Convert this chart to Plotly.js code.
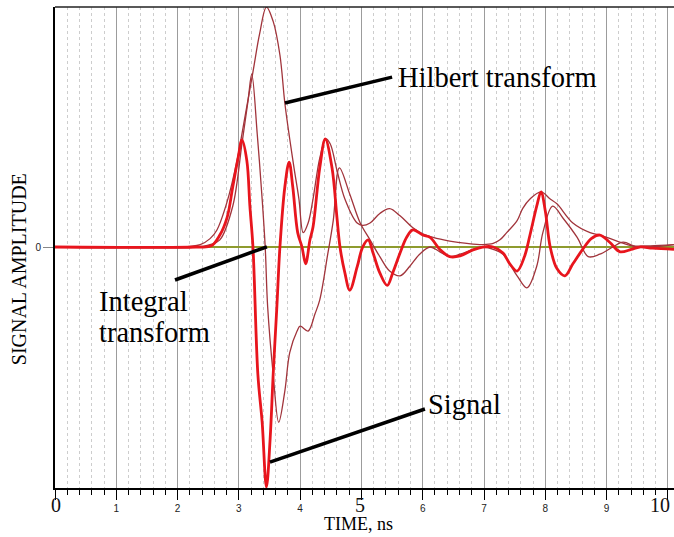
<!DOCTYPE html>
<html>
<head>
<meta charset="utf-8">
<script src="https://cdn.plot.ly/plotly-3.0.1.min.js"></script>
<style>html,body{margin:0;padding:0;background:#fff;}#chart{width:674px;height:537px;}</style>
</head>
<body>
<div id="chart"></div>
<script>
// ---- data (time in ns, amplitude in arbitrary units) ----
var timeSignal = [0, 2.3, 2.55, 2.69, 2.81, 2.90, 2.99, 3.05, 3.13, 3.18, 3.23, 3.31, 3.38, 3.45, 3.51, 3.56, 3.62, 3.67, 3.75, 3.82,
                  3.88, 3.96, 4.03, 4.09, 4.16, 4.21, 4.32, 4.41, 4.52, 4.60, 4.65, 4.73, 4.81, 4.93, 5.02, 5.11, 5.19, 5.30, 5.42, 5.51,
                  5.63, 5.74, 5.84, 6.00, 6.12, 6.28, 6.44, 6.61, 6.82, 6.98, 7.15, 7.31, 7.42, 7.54, 7.66, 7.75, 7.86, 7.93, 8.00, 8.08,
                  8.19, 8.32, 8.45, 8.61, 8.75, 8.89, 9.05, 9.22, 9.40, 9.54, 9.75, 10.1];
var ampSignal  = [0, 0, 0.005, 0.05, 0.125, 0.25, 0.375, 0.446, 0.36, 0.17, 0, -0.53, -0.73, -1.0, -0.80, -0.53, -0.25, 0, 0.25, 0.354,
                  0.25, 0.06, 0, -0.07, 0.03, 0.083, 0.33, 0.45, 0.33, 0.125, 0, -0.108, -0.18, -0.083, 0, 0.03, -0.025, -0.108, -0.16, -0.108,
                  -0.025, 0.042, 0.071, 0.05, 0.04, -0.01, -0.04, -0.037, -0.012, 0, 0, -0.025, -0.07, -0.10, -0.04, 0.05, 0.17, 0.23, 0.15, 0,
                  -0.09, -0.12, -0.07, -0.01, 0.035, 0.05, 0.02, -0.02, -0.01, 0, -0.005, -0.01];

var timeHilbert = [0, 1.9, 2.2, 2.37, 2.53, 2.64, 2.81, 2.97, 3.07, 3.23, 3.34, 3.45, 3.56, 3.67, 3.75, 3.83, 3.90, 3.98, 4.05, 4.13,
                   4.21, 4.32, 4.42, 4.49, 4.60, 4.73, 4.93, 5.02, 5.14, 5.30, 5.46, 5.63, 5.84, 6.00, 6.17, 6.44, 6.72, 6.98, 7.15, 7.26,
                   7.37, 7.54, 7.63, 7.75, 7.93, 8.08, 8.19, 8.45, 8.73, 8.89, 9.17, 9.43, 9.71, 10.1];
var ampHilbert  = [0, 0, 0.003, 0.01, 0.035, 0.07, 0.19, 0.36, 0.5, 0.73, 0.89, 1.0, 0.94, 0.8, 0.6, 0.45, 0.33, 0.2, 0.06, 0.1,
                   0.2, 0.37, 0.45, 0.43, 0.32, 0.2, 0.1, 0.09, 0.1, 0.14, 0.16, 0.13, 0.08, 0.055, 0.04, 0.025, 0.015, 0.01, 0.015, 0.03,
                   0.06, 0.11, 0.16, 0.2, 0.23, 0.2, 0.18, 0.1, 0.06, 0.05, 0.025, 0.005, 0.005, 0.01];

var timeIntegral = [0, 2.3, 2.53, 2.69, 2.90, 3.05, 3.15, 3.21, 3.30, 3.38, 3.43, 3.47, 3.56, 3.65, 3.75, 3.83, 3.95, 4.00, 4.13, 4.24,
                    4.32, 4.45, 4.54, 4.64, 4.81, 4.98, 5.14, 5.30, 5.46, 5.63, 5.79, 5.95, 6.12, 6.28, 6.44, 6.61, 6.82, 6.98, 7.15, 7.31,
                    7.54, 7.70, 7.86, 7.96, 8.12, 8.29, 8.52, 8.70, 8.89, 9.10, 9.27, 9.49, 9.71, 10.1];
var ampIntegral  = [0, 0, 0.01, 0.03, 0.17, 0.43, 0.61, 0.72, 0.47, 0.2, 0, -0.25, -0.53, -0.73, -0.6, -0.44, -0.35, -0.33, -0.35, -0.28,
                    -0.22, -0.03, 0.11, 0.33, 0.22, 0.1, 0.03, -0.04, -0.1, -0.12, -0.08, -0.03, 0.0, -0.02, -0.04, -0.03, -0.01, 0, -0.01, -0.03,
                    -0.12, -0.17, -0.08, 0.06, 0.17, 0.12, 0.04, -0.04, -0.03, 0, 0.02, 0.0, 0.0, 0.01];

var xTickValues = [0, 1, 2, 3, 4, 5, 6, 7, 8, 9, 10];
var xTickLabels = ['0', '1', '2', '3', '4', '5', '6', '7', '8', '9', '10'];
var bigTicks = ['0', '5', '10'];
var yTickValues = [0];
var yTickLabels = ['0'];
var xTitle = 'TIME, ns';
var yTitle = 'SIGNAL AMPLITUDE';

// ---- build ----
var serif = 'Liberation Serif, Times New Roman, serif';
var tickText = xTickLabels.map(function (s) { return bigTicks.indexOf(s) >= 0 ? '' : s; });

// the large serif labels (0, 5, 10) are drawn as annotations under their ticks
var bigTickAnn = [];
xTickLabels.forEach(function (s, i) {
  if (bigTicks.indexOf(s) < 0) return;
  var shift = (i === xTickLabels.length - 1) ? -8 : (i === 0 ? 1 : -1);
  bigTickAnn.push({text: s, x: xTickValues[i], y: 0, xref: 'x', yref: 'paper', showarrow: false,
                   xanchor: 'center', yanchor: 'middle', xshift: shift, yshift: -17, borderpad: 0,
                   font: {family: serif, size: 20, color: '#111'}});
});

var thin = '#a1343b';
var traces = [
  {x: timeHilbert, y: ampHilbert, mode: 'lines', line: {color: thin, width: 1.3, shape: 'spline'}, name: 'Hilbert transform'},
  {x: timeIntegral, y: ampIntegral, mode: 'lines', line: {color: thin, width: 1.3, shape: 'spline'}, name: 'Integral transform'},
  {x: timeSignal, y: ampSignal, mode: 'lines', line: {color: '#e8151d', width: 2.8, shape: 'spline'}, name: 'Signal'}
];

function label(txt, x, y) {
  return {text: txt, x: x, y: y, xref: 'x', yref: 'y', showarrow: false, xanchor: 'left', yanchor: 'middle',
          font: {family: serif, size: 28.5, color: '#000'}};
}
function pointer(x0, y0, x1, y1) {
  return {type: 'line', xref: 'x', yref: 'y', x0: x0, y0: y0, x1: x1, y1: y1, line: {color: '#000', width: 3.5}};
}

var titleAnn = [
  {text: xTitle, xref: 'paper', yref: 'paper', x: 0.49, y: -0.0985, xanchor: 'center', yanchor: 'bottom', showarrow: false,
   borderpad: 0, font: {family: serif, size: 18, color: '#000'}},
  {text: yTitle, xref: 'paper', yref: 'paper', x: -0.058, y: 0.455, xanchor: 'center', yanchor: 'middle', showarrow: false,
   textangle: -90, font: {family: serif, size: 20, color: '#000'}}
];

var layout = {
  width: 674, height: 537,
  margin: {l: 55, r: 0, t: 7, b: 49},
  paper_bgcolor: '#fff', plot_bgcolor: '#fff',
  showlegend: false,
  xaxis: {
    range: [0, 10.1],
    tickmode: 'array', tickvals: xTickValues, ticktext: tickText,
    ticks: 'outside', ticklen: 10, tickwidth: 1, tickcolor: '#000',
    tickfont: {family: 'Liberation Sans, Arial, sans-serif', size: 10, color: '#222'},
    showline: true, linecolor: '#000', linewidth: 2,
    showgrid: true, gridcolor: '#9c9c9c', gridwidth: 1,
    zeroline: false,
    minor: {tick0: 0, dtick: 0.2, ticks: 'outside', ticklen: 5, tickcolor: '#000', tickwidth: 1,
            showgrid: true, gridcolor: '#cdcdcd', griddash: 'dot', gridwidth: 1}
  },
  yaxis: {
    range: [-1.004, 1.0],
    tickmode: 'array', tickvals: yTickValues, ticktext: yTickLabels,
    ticks: 'outside', ticklen: 10, tickcolor: '#888', tickwidth: 1,
    tickfont: {family: 'Liberation Sans, Arial, sans-serif', size: 10, color: '#222'},
    showline: true, linecolor: '#000', linewidth: 2,
    showgrid: false,
    zeroline: true, zerolinecolor: '#8e9b2e', zerolinewidth: 2
  },
  shapes: [
    {type: 'line', xref: 'paper', yref: 'paper', x0: 0, x1: 1, y0: 1, y1: 1, line: {color: '#222', width: 1.5}},
    pointer(3.752, 0.60, 5.50, 0.708),
    pointer(1.958, -0.1375, 3.458, 0.001),
    pointer(3.507, -0.896, 6.036, -0.675)
  ],
  annotations: [
    label('Hilbert transform', 5.56, 0.705),
    label('Integral', 0.69, -0.225),
    label('transform', 0.69, -0.358),
    label('Signal', 6.05, -0.655)
  ].concat(bigTickAnn).concat(titleAnn)
};

Plotly.newPlot('chart', traces, layout, {displayModeBar: false, staticPlot: true});
</script>
</body>
</html>
